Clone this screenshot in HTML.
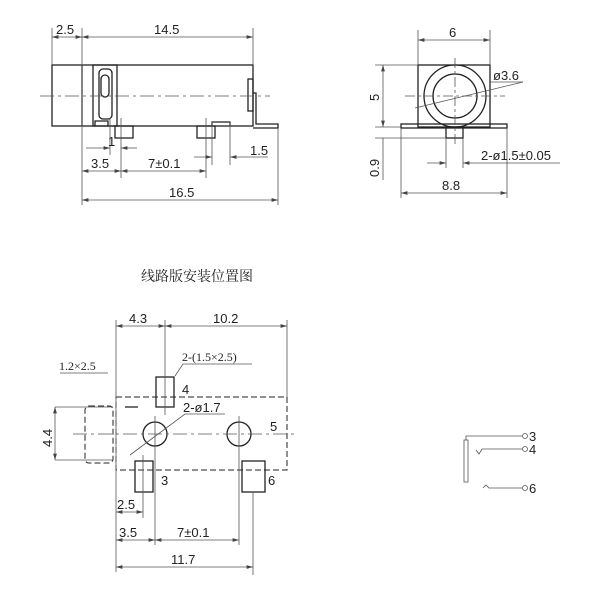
<!DOCTYPE html>
<html><head><style>body{margin:0;background:#fff}svg{display:block}text{font-family:"Liberation Sans",sans-serif;font-size:13px;fill:#222}.c{font-family:"Liberation Serif","Noto Serif CJK SC",serif}</style></head><body>
<svg width="600" height="600" viewBox="0 0 600 600" xmlns="http://www.w3.org/2000/svg">
<defs><marker id="a" viewBox="0 0 10 6" refX="10" refY="3" markerWidth="8" markerHeight="5" orient="auto-start-reverse"><path d="M0,0L10,3L0,6z" fill="#444"/></marker></defs>
<g fill="none" stroke="#222" stroke-width="1.3">
<rect x="52" y="65" width="201" height="61"/><line x1="82" y1="65" x2="82" y2="126"/>
<rect x="93" y="65" width="24" height="61"/><rect x="99" y="69" width="13" height="50" rx="4"/><rect x="101" y="75" width="8" height="22" rx="4"/>
<polyline points="95,126 95,121 108,121 108,126"/>
<rect x="115" y="126" width="18" height="12"/><rect x="197" y="126" width="18" height="12"/>
<polyline points="212,126 212,122 230,122 230,126"/>
<rect x="248" y="79" width="5" height="32"/>
<polyline points="253,93 256,93 256,124 278,124 278,128 253,128"/>
<rect x="418" y="65" width="72" height="62"/><rect x="401" y="124" width="106" height="4"/>
<circle cx="455" cy="96" r="31"/><circle cx="455" cy="96" r="22"/><rect x="446" y="127" width="17" height="11"/>
<rect x="116" y="397" width="171" height="73" stroke-dasharray="6,3" stroke-width="1"/>
<rect x="85" y="406" width="28" height="57" rx="4" stroke-dasharray="6,3" stroke-width="1"/>
<circle cx="155" cy="434" r="12"/><circle cx="239" cy="434" r="12"/>
<rect x="156" y="377" width="18" height="30"/><rect x="135" y="461" width="18" height="31"/><rect x="242" y="461" width="23" height="31"/>
<line x1="125" y1="407" x2="138" y2="407"/>
</g>
<g fill="none" stroke="#555" stroke-width="0.8">
<line x1="40" y1="96" x2="270" y2="96" stroke-dasharray="14,4,3,4"/>
<line x1="52" y1="28" x2="52" y2="65"/><line x1="82" y1="28" x2="82" y2="205"/><line x1="253" y1="28" x2="253" y2="65"/><line x1="278" y1="128" x2="278" y2="205"/>
<line x1="52" y1="37" x2="82" y2="37" marker-start="url(#a)" marker-end="url(#a)"/>
<line x1="82" y1="37" x2="253" y2="37" marker-start="url(#a)" marker-end="url(#a)"/>
<line x1="110" y1="118" x2="110" y2="155"/><line x1="121" y1="118" x2="121" y2="178"/><line x1="206" y1="118" x2="206" y2="178"/><line x1="212" y1="122" x2="212" y2="165"/><line x1="230" y1="122" x2="230" y2="165"/>
<line x1="86" y1="148" x2="110" y2="148" marker-end="url(#a)"/><line x1="121" y1="148" x2="137" y2="148" marker-start="url(#a)"/>
<line x1="194" y1="157" x2="212" y2="157" marker-end="url(#a)"/><line x1="230" y1="157" x2="268" y2="157" marker-start="url(#a)"/>
<line x1="82" y1="171" x2="121" y2="171" marker-start="url(#a)" marker-end="url(#a)"/><line x1="121" y1="171" x2="206" y2="171" marker-start="url(#a)" marker-end="url(#a)"/>
<line x1="82" y1="200" x2="278" y2="200" marker-start="url(#a)" marker-end="url(#a)"/>
<line x1="455" y1="58" x2="455" y2="145" stroke-dasharray="10,3,3,3"/><line x1="405" y1="96" x2="505" y2="96" stroke-dasharray="10,3,3,3"/>
<line x1="418" y1="30" x2="418" y2="65"/><line x1="490" y1="30" x2="490" y2="65"/>
<line x1="418" y1="40" x2="490" y2="40" marker-start="url(#a)" marker-end="url(#a)"/>
<line x1="375" y1="65" x2="418" y2="65"/><line x1="375" y1="127" x2="401" y2="127"/><line x1="375" y1="138" x2="446" y2="138"/>
<line x1="383" y1="65" x2="383" y2="127" marker-start="url(#a)" marker-end="url(#a)"/>
<line x1="383" y1="145" x2="383" y2="180"/><line x1="383" y1="138" x2="383" y2="145"/>
<line x1="415" y1="108" x2="523" y2="82"/><line x1="490" y1="82" x2="523" y2="82"/>
<line x1="446" y1="138" x2="446" y2="168"/><line x1="463" y1="138" x2="463" y2="168"/>
<line x1="427" y1="163" x2="446" y2="163" marker-end="url(#a)"/><line x1="463" y1="163" x2="560" y2="163" marker-start="url(#a)"/>
<line x1="401" y1="128" x2="401" y2="198"/><line x1="507" y1="128" x2="507" y2="198"/>
<line x1="401" y1="193" x2="507" y2="193" marker-start="url(#a)" marker-end="url(#a)"/>
<line x1="73" y1="434" x2="295" y2="434" stroke-dasharray="14,4,3,4"/>
<line x1="116" y1="320" x2="116" y2="572"/><line x1="165" y1="320" x2="165" y2="415"/><line x1="287" y1="320" x2="287" y2="397"/>
<line x1="116" y1="326" x2="165" y2="326" marker-start="url(#a)" marker-end="url(#a)"/><line x1="165" y1="326" x2="287" y2="326" marker-start="url(#a)" marker-end="url(#a)"/>
<line x1="55" y1="407" x2="113" y2="407"/><line x1="55" y1="460" x2="113" y2="460"/>
<line x1="55" y1="407" x2="55" y2="460" marker-start="url(#a)" marker-end="url(#a)"/>
<line x1="155" y1="416" x2="155" y2="545"/><line x1="239" y1="416" x2="239" y2="545"/><line x1="143" y1="455" x2="143" y2="518"/><line x1="253" y1="492" x2="253" y2="575"/>
<line x1="116" y1="512" x2="143" y2="512" marker-start="url(#a)" marker-end="url(#a)"/>
<line x1="116" y1="540" x2="155" y2="540" marker-start="url(#a)" marker-end="url(#a)"/><line x1="155" y1="540" x2="239" y2="540" marker-start="url(#a)" marker-end="url(#a)"/>
<line x1="116" y1="567" x2="253" y2="567" marker-start="url(#a)" marker-end="url(#a)"/>
<polyline points="175,376 183,364 252,364"/><line x1="60" y1="373" x2="108" y2="373"/>
<polyline points="130,455 185,414 225,414"/>
<rect x="464" y="440" width="4" height="42"/>
<polyline points="466,440 466,436 522,436"/><polyline points="476,450 479,454 482,449 522,449"/><polyline points="483,488 486,485 489,488 522,488"/>
<circle cx="525" cy="436" r="2.5"/><circle cx="525" cy="449" r="2.5"/><circle cx="525" cy="488" r="2.5"/>
</g>
<text x="56" y="34">2.5</text><text x="154" y="34">14.5</text><text x="108" y="146">1</text><text x="250" y="155">1.5</text>
<text x="91" y="168">3.5</text><text x="148" y="168">7±0.1</text><text x="169" y="197">16.5</text>
<text x="449" y="37">6</text><text x="493" y="80">ø3.6</text><text x="481" y="160">2-ø1.5±0.05</text><text x="442" y="190">8.8</text>
<text transform="translate(379,101) rotate(-90)">5</text><text transform="translate(379,177) rotate(-90)">0.9</text>
<text class="c" x="141" y="281" style="font-size:14px">线路版安装位置图</text>
<text x="129" y="323">4.3</text><text x="213" y="323">10.2</text>
<text class="c" x="182" y="361" style="font-size:12px">2-(1.5×2.5)</text><text class="c" x="59" y="370" style="font-size:12px">1.2×2.5</text>
<text x="182" y="394">4</text><text x="183" y="412">2-ø1.7</text><text x="270" y="431">5</text><text x="161" y="485">3</text><text x="268" y="485">6</text>
<text transform="translate(52,447) rotate(-90)">4.4</text>
<text x="117" y="509">2.5</text><text x="119" y="537">3.5</text><text x="177" y="537">7±0.1</text><text x="171" y="564">11.7</text>
<text x="529" y="441">3</text><text x="529" y="454">4</text><text x="529" y="493">6</text>
</svg>
</body></html>
